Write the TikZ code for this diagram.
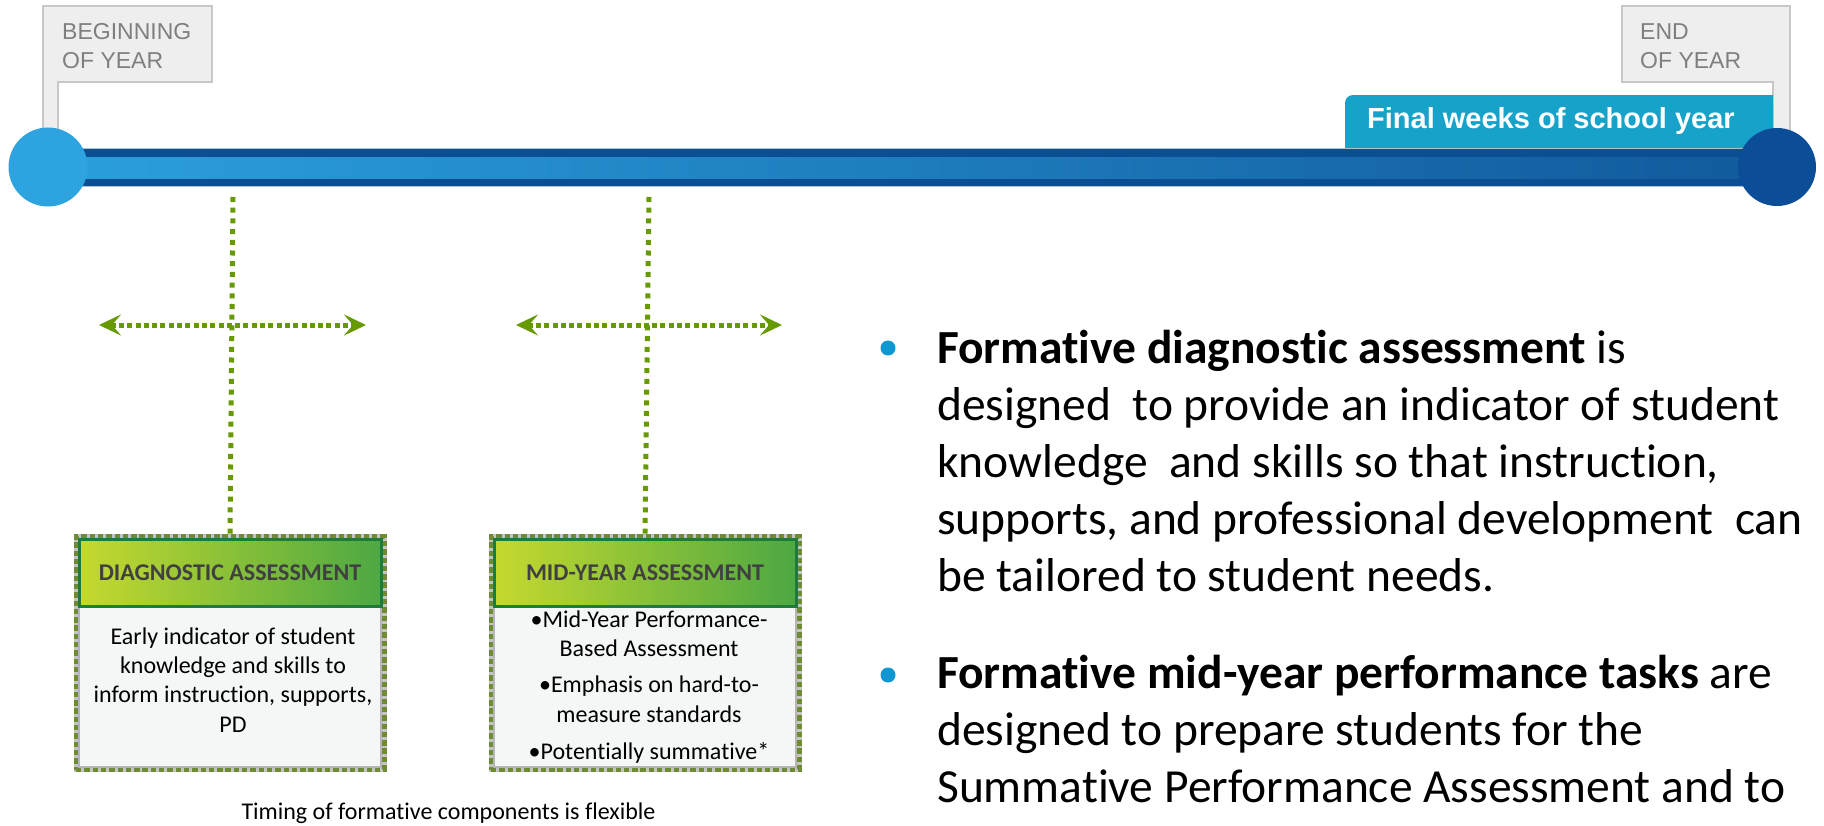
\documentclass[tikz,border=0pt]{standalone}
\usepackage{fontspec}
\setmainfont{Carlito}[Ligatures=NoCommon]
\newfontfamily\arialfont{Liberation Sans}
\usepackage{xcolor}
\usetikzlibrary{arrows.meta,positioning}

\definecolor{flaggray}{HTML}{EEEEEE}
\definecolor{flagedge}{HTML}{C8C8C8}
\definecolor{flagtextgray}{HTML}{7F7F7F}
\definecolor{tabblue}{HTML}{17A2C9}
\definecolor{barblue}{HTML}{0C4E92}
\definecolor{baredge}{HTML}{AFC2D6}
\definecolor{stripeleft}{HTML}{2BA0DC}
\definecolor{stripemid}{HTML}{1B7BBE}
\definecolor{striperight}{HTML}{11599D}
\definecolor{startblue}{HTML}{2DA3DF}
\definecolor{endblue}{HTML}{0B4E97}
\definecolor{dotgreen}{HTML}{669A00}
\definecolor{frameolive}{HTML}{6F8B34}
\definecolor{framegap}{HTML}{C4C4C4}
\definecolor{headlight}{HTML}{C5D92E}
\definecolor{headdark}{HTML}{4DA843}
\definecolor{headedge}{HTML}{1F7B3B}
\definecolor{headtext}{HTML}{404040}
\definecolor{bodyfill}{HTML}{F5F7F7}
\definecolor{bodyedge}{HTML}{B5B5B5}
\definecolor{bulletblue}{HTML}{0E97D0}

\tikzset{
  flagbox/.style={fill=flaggray, draw=flagedge, line width=2pt},
  flagtext/.style={font=\arialfont\fontsize{23pt}{29pt}\selectfont, text=flagtextgray,
    align=left, inner sep=0pt, anchor=base west},
  dotline/.style={draw=dotgreen, line width=5pt, dash pattern=on 5pt off 5.7pt},
  spanarrow/.style={draw=dotgreen, line width=5pt, dash pattern=on 5pt off 3.3pt,
    >={Stealth[length=22pt,width=21pt,inset=9pt]}, <->},
  boxframe/.style={draw=frameolive, line width=5pt, dash pattern=on 5.4pt off 2.9pt,
    minimum width=308pt, minimum height=233pt, inner sep=0pt,
    preaction={draw=framegap, line width=5pt, solid}},
  boxbody/.style={fill=bodyfill, draw=bodyedge, line width=2pt,
    minimum width=302pt, minimum height=228pt, inner sep=0pt},
  boxhead/.style={left color=headlight, right color=headdark, draw=headedge, line width=3pt,
    minimum width=302pt, minimum height=67pt, inner sep=0pt, text=headtext,
    font=\bfseries\fontsize{24pt}{29pt}\selectfont},
  boxtext/.style={font=\fontsize{24pt}{29.3pt}\selectfont, align=center, inner sep=0pt, anchor=base},
  bigtext/.style={font=\fontsize{47.5pt}{57pt}\selectfont, align=left, inner sep=0pt, anchor=base west},
  bulletdot/.style={circle, fill=bulletblue, minimum size=15pt, inner sep=0pt}
}

\begin{document}
\begin{tikzpicture}[x=1pt,y=-1pt]
  \useasboundingbox (0,0) rectangle (1824,825);

  % Flags at the two ends of the year (text placed by its last line)
  \draw[flagbox] (43,6) -- (212,6) -- (212,82) -- (58,82) -- (58,167) -- (43,167) -- cycle;
  \draw[flagbox] (1622,6) -- (1790,6) -- (1790,167) -- (1773,167) -- (1773,82) -- (1622,82) -- cycle;
  \node[flagtext] (beginyear) at (62,68) {BEGINNING\\OF YEAR};
  \node[flagtext] (endyear) at (1640,68) {END\\OF YEAR};

  % Final weeks tab
  \fill[tabblue, rounded corners=8pt] (1345,95) rectangle (1773,160);
  \fill[tabblue] (1400,95) rectangle (1773,148);
  \node[font=\arialfont\bfseries\fontsize{29pt}{34pt}\selectfont, text=white, inner sep=0pt,
    anchor=base west] (finalweeks) at (1367,128) {Final weeks of school year};

  % Time line
  \fill[barblue] (48,148) rectangle (1777,186);
  \shade[left color=stripeleft, middle color=stripemid, right color=striperight] (48,157) rectangle (1777,178);
  \draw[baredge, line width=1pt] (48,148) -- (1777,148) (48,186) -- (1777,186);
  \node[circle, fill=startblue, minimum size=79pt, inner sep=0pt] (start) at (48,167) {};
  \node[circle, fill=endblue, minimum size=78pt, inner sep=0pt] (finish) at (1777,167) {};

  % Diagnostic assessment box
  \node[boxframe] (diagframe) at (230,653) {};
  \node[boxbody] (diagbody) at (230,653) {};
  \node[boxhead] (diaghead) at (230,572.5) {DIAGNOSTIC ASSESSMENT};
  \node[boxtext] (diagtext) at (233,732) {Early indicator of student\\knowledge and skills to\\inform instruction, supports,\\PD};

  % Mid-year assessment box
  \node[boxframe] (midframe) at (645,653) {};
  \node[boxbody] (midbody) at (645,653) {};
  \node[boxhead] (midhead) at (645,572.5) {MID-YEAR ASSESSMENT};
  \node[boxtext] (midtext) at (649,759) {•Mid-Year Performance-\\Based Assessment\\[6.7pt]
    •Emphasis on hard-to-\\measure standards\\[7.7pt]•Potentially summative*};

  % Flexible timing
  \coordinate (diagtop) at (233,197);
  \coordinate (midtop) at (649,197);
  \draw[dotline] (diagtop) -- (diagframe.north);
  \draw[dotline] (midtop) -- (midframe.north);
  \coordinate (diagleft) at (99,325);
  \coordinate (diagright) at (366,325);
  \coordinate (midleft) at (516,325);
  \coordinate (midright) at (782,325);
  \draw[spanarrow] (diagleft) -- (diagright);
  \draw[spanarrow] (midleft) -- (midright);

  \node[font=\fontsize{24pt}{29pt}\selectfont, inner sep=0pt, anchor=base] (timing) at (448.5,819)
    {Timing of formative components is flexible};

  % Explanations
  \node[bulletdot] (dot1) at (888,348) {};
  \node[bigtext] (diagnote) at (937,591) {\textbf{Formative diagnostic assessment} is\\
    designed\ \ to provide an indicator of student\\
    knowledge\ \ and skills so that instruction,\\
    supports, and professional development\ \ can\\
    be tailored to student needs.};
  \node[bulletdot] (dot2) at (888,675) {};
  \node[bigtext] (midnote) at (937,802) {\textbf{Formative mid-year performance tasks} are\\
    designed to prepare students for the\\
    Summative Performance Assessment and to};
\end{tikzpicture}
\end{document}
